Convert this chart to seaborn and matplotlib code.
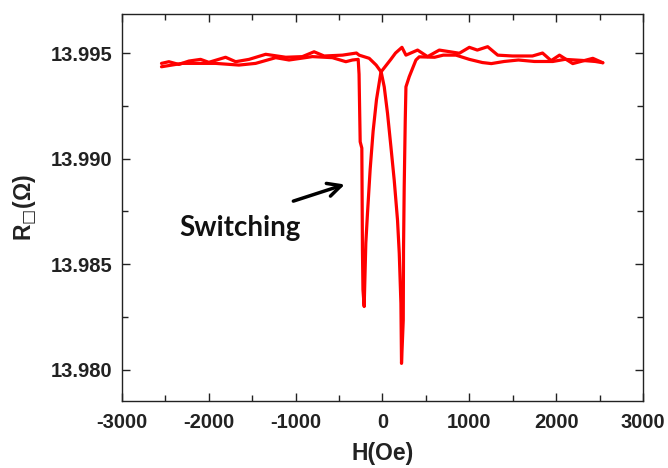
import numpy as np
import pandas as pd
import matplotlib
matplotlib.use("Agg")
import matplotlib.pyplot as plt
import seaborn as sns

# field sweep from +H to -H (descending)
h_down = [2537, 2422, 2191, 2038, 1942, 1843, 1727, 1496, 1327, 1211, 1092, 1000,
          885, 654, 519, 404, 270, 224, 150, 96, -18, -69, -108, -142, -173, -192,
          -211, -225, -231, -238, -257, -270, -280, -346, -422, -577, -807, -1076,
          -1230, -1461, -1653, -1922, -2134, -2307, -2545]
r_down = [13.99454, 13.99475, 13.99450, 13.99490, 13.99464, 13.99500, 13.99486,
          13.99486, 13.99490, 13.99530, 13.99514, 13.99527, 13.99499, 13.99514,
          13.99483, 13.99514, 13.99490, 13.99527, 13.99500, 13.99470, 13.99410,
          13.99280, 13.99130, 13.98950, 13.98740, 13.98600, 13.98300, 13.98380,
          13.98570, 13.99050, 13.99080, 13.99400, 13.99470, 13.99467, 13.99459,
          13.99478, 13.99483, 13.99467, 13.99478, 13.99451, 13.99443, 13.99451,
          13.99451, 13.99451, 13.99435]

# field sweep from -H to +H (ascending)
h_up = [-2545, -2460, -2345, -2230, -2095, -2000, -1807, -1691, -1537, -1345,
        -1114, -923, -788, -672, -461, -300, -269, -153, -73, -15, 20, 58, 97,
        135, 173, 193, 212, 219, 239, 242, 250, 262, 270, 308, 385, 423, 600,
        700, 846, 1000, 1150, 1253, 1400, 1565, 1750, 1961, 2100, 2300, 2450, 2537]
r_up = [13.99451, 13.99459, 13.99446, 13.99462, 13.99470, 13.99456, 13.99480,
        13.99459, 13.99470, 13.99494, 13.99480, 13.99483, 13.99506, 13.99486,
        13.99490, 13.99500, 13.99490, 13.99475, 13.99443, 13.99410, 13.99340,
        13.99214, 13.99056, 13.98898, 13.98709, 13.98552, 13.98315, 13.98031,
        13.98235, 13.98566, 13.98866, 13.99182, 13.99340, 13.99388, 13.99467,
        13.99482, 13.99480, 13.99490, 13.99490, 13.99470, 13.99455, 13.99450,
        13.99460, 13.99467, 13.99460, 13.99460, 13.99470, 13.99465, 13.99460,
        13.99454]

sns.set_style("ticks")
plt.rcParams['font.family'] = ['Liberation Sans', 'DejaVu Sans']
plt.rcParams['axes.unicode_minus'] = False

fig = plt.figure(figsize=(6.68, 4.68), dpi=100)
ax = fig.add_axes([0.1826, 0.1432, 0.7800, 0.8270])

down = pd.DataFrame({"H": h_down, "R": r_down})
up = pd.DataFrame({"H": h_up, "R": r_up})
sns.lineplot(data=down, x="H", y="R", sort=False, estimator=None, color="#ff0000", lw=2.3, ax=ax)
sns.lineplot(data=up, x="H", y="R", sort=False, estimator=None, color="#ff0000", lw=2.3, ax=ax)

ax.set_xlim(-3000, 3000)
ax.set_ylim(13.97853, 13.99685)
ax.set_xticks(np.arange(-3000, 3001, 1000))
ax.set_xticks(np.arange(-2500, 3000, 1000), minor=True)
ax.set_yticks([13.980, 13.985, 13.990, 13.995])
ax.set_yticks([13.9825, 13.9875, 13.9925], minor=True)
ax.set_yticklabels(["13.980", "13.985", "13.990", "13.995"])

ax.tick_params(which="both", direction="in", top=True, right=True, width=1, colors="#222222")
ax.tick_params(which="major", length=6)
ax.tick_params(which="minor", length=4)
ax.tick_params(axis="y", pad=7)
ax.tick_params(axis="x", pad=9)
for lab in ax.get_xticklabels() + ax.get_yticklabels():
    lab.set_fontsize(14.5)
    lab.set_fontweight("bold")
    lab.set_color("#222222")
for s in ax.spines.values():
    s.set_color("#222222")
    s.set_linewidth(1)

ax.set_xlabel("H(Oe)", fontsize=16.5, fontweight="bold", color="#222222", labelpad=7)
ax.set_ylabel("R$_{\u25a1}$(Ω)", fontsize=16.5, fontweight="bold", color="#222222", labelpad=8)

ax.annotate("", xy=(-404, 13.98882), xytext=(-1057, 13.98795),
            arrowprops=dict(arrowstyle="->", color="black", lw=2.5, mutation_scale=24))
ax.text(-1641, 13.98671, "Switching", fontsize=20, fontweight="bold",
        family=["Lato", "DejaVu Sans"], ha="center", va="center", color="#111111")

fig.savefig("out.png", dpi=100)
